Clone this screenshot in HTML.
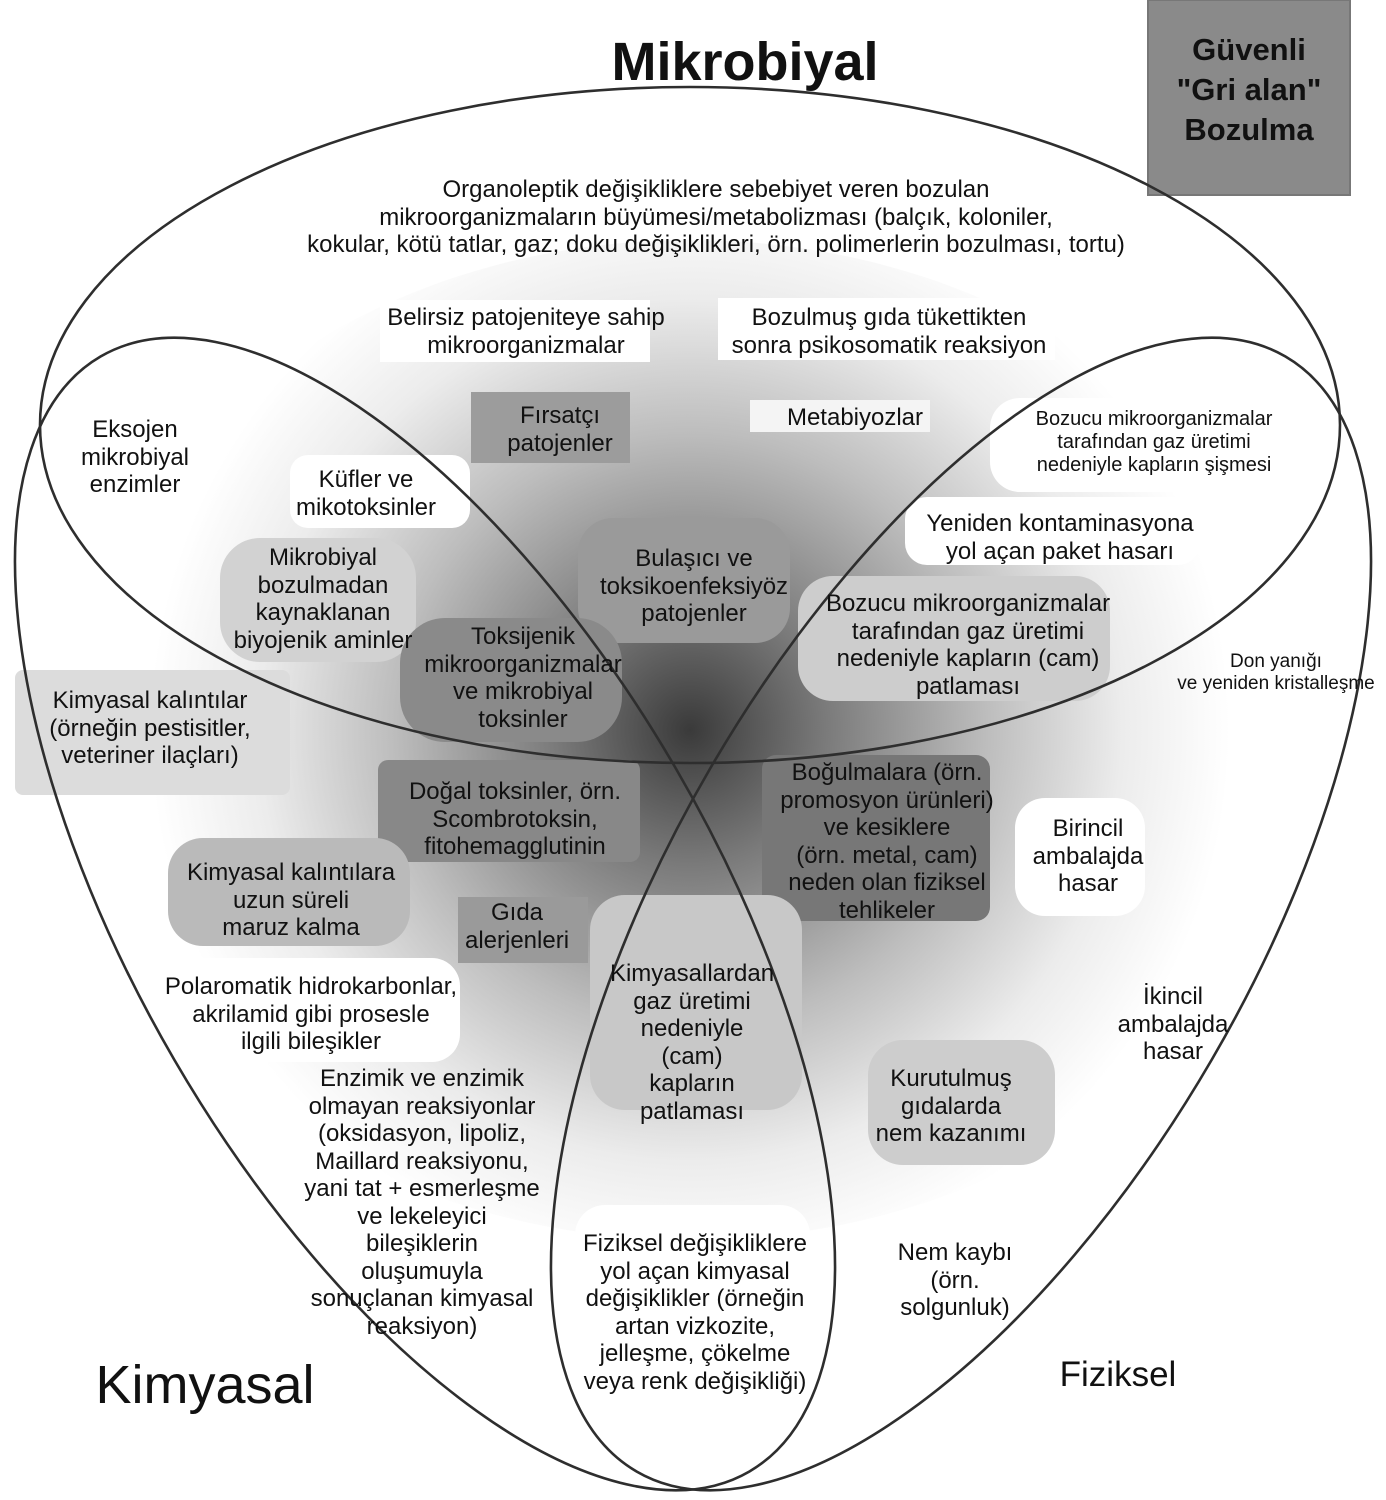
<!DOCTYPE html>
<html><head><meta charset="utf-8"><style>
body{margin:0;background:#fff;}
#c{position:relative;width:1386px;height:1500px;overflow:hidden;font-family:"Liberation Sans",Arial,sans-serif;color:#111;}
.t{position:absolute;text-align:center;font-size:24px;line-height:27.5px;white-space:nowrap;transform:translateX(-50%);}
svg{position:absolute;left:0;top:0;}
</style></head><body><div id="c">
<svg width="1386" height="1500">
<defs>
<radialGradient id="g" cx="690" cy="730" r="540" gradientUnits="userSpaceOnUse">
<stop offset="0" stop-color="#3a3a3a"/>
<stop offset="0.25" stop-color="#7a7a7a"/>
<stop offset="0.55" stop-color="#bdbdbd"/>
<stop offset="0.8" stop-color="#ececec"/>
<stop offset="1" stop-color="#fff"/>
</radialGradient>
</defs>
<rect x="0" y="0" width="1386" height="1500" fill="#fff"/>
<ellipse cx="690" cy="740" rx="620" ry="500" fill="url(#g)"/>
<rect x="380" y="300" width="270" height="62" fill="#fff"/>
<rect x="718" y="298" width="337" height="62" fill="#fff"/>
<rect x="471" y="392" width="159" height="71" fill="#9c9c9c"/>
<rect x="750" y="400" width="180" height="32" fill="#f4f4f4"/>
<rect x="290" y="455" width="180" height="73" rx="18" fill="#fff"/>
<rect x="990" y="398" width="330" height="94" rx="30" fill="#fff"/>
<rect x="905" y="497" width="295" height="68" rx="22" fill="#fff"/>
<rect x="220" y="538" width="196" height="124" rx="40" fill="#d2d2d2"/>
<rect x="578" y="518" width="212" height="125" rx="35" fill="#9a9a9a"/>
<rect x="400" y="618" width="222" height="124" rx="45" fill="#8a8a8a"/>
<rect x="798" y="576" width="312" height="125" rx="35" fill="#cdcdcd"/>
<rect x="15" y="670" width="275" height="125" rx="8" fill="#dcdcdc"/>
<rect x="378" y="760" width="262" height="102" rx="10" fill="#888"/>
<rect x="762" y="755" width="228" height="166" rx="14" fill="#777"/>
<rect x="1015" y="798" width="130" height="118" rx="30" fill="#fff"/>
<rect x="168" y="838" width="242" height="108" rx="35" fill="#bababa"/>
<rect x="458" y="897" width="130" height="66" fill="#9a9a9a"/>
<rect x="140" y="958" width="320" height="104" rx="28" fill="#fff"/>
<rect x="590" y="895" width="212" height="215" rx="35" fill="#c8c8c8"/>
<rect x="868" y="1040" width="187" height="125" rx="35" fill="#cdcdcd"/>
<rect x="575" y="1205" width="235" height="190" rx="30" fill="#fff"/>
<rect x="1148" y="0" width="202" height="195" fill="#8a8a8a" stroke="#777" stroke-width="2"/>
<g fill="none" stroke="#2e2e2e" stroke-width="2.6">
<ellipse cx="690" cy="425" rx="650" ry="338"/>
<ellipse cx="425" cy="914" rx="645" ry="290" transform="rotate(59.8 425 914)"/>
<ellipse cx="961" cy="914" rx="645" ry="290" transform="rotate(-59.8 961 914)"/>
</g>
</svg>
<div class="t" style="left:745px;top:32px;font-size:54px;line-height:60px;font-weight:bold;">Mikrobiyal</div>
<div class="t" style="left:1249px;top:30px;font-size:31px;line-height:40px;font-weight:bold;">Güvenli<br>"Gri alan"<br>Bozulma</div>
<div class="t" style="left:716px;top:176px;">Organoleptik değişikliklere sebebiyet veren bozulan<br>mikroorganizmaların büyümesi/metabolizması (balçık, koloniler,<br>kokular, kötü tatlar, gaz; doku değişiklikleri, örn. polimerlerin bozulması, tortu)</div>
<div class="t" style="left:526px;top:304px;">Belirsiz patojeniteye sahip<br>mikroorganizmalar</div>
<div class="t" style="left:889px;top:304px;">Bozulmuş gıda tükettikten<br>sonra psikosomatik reaksiyon</div>
<div class="t" style="left:560px;top:402px;">Fırsatçı<br>patojenler</div>
<div class="t" style="left:855px;top:404px;">Metabiyozlar</div>
<div class="t" style="left:135px;top:416px;">Eksojen<br>mikrobiyal<br>enzimler</div>
<div class="t" style="left:366px;top:466px;">Küfler ve<br>mikotoksinler</div>
<div class="t" style="left:1154px;top:408px;font-size:20px;line-height:23px;">Bozucu mikroorganizmalar<br>tarafından gaz üretimi<br>nedeniyle kapların şişmesi</div>
<div class="t" style="left:1060px;top:510px;">Yeniden kontaminasyona<br>yol açan paket hasarı</div>
<div class="t" style="left:323px;top:544px;">Mikrobiyal<br>bozulmadan<br>kaynaklanan<br>biyojenik aminler</div>
<div class="t" style="left:694px;top:545px;">Bulaşıcı ve<br>toksikoenfeksiyöz<br>patojenler</div>
<div class="t" style="left:523px;top:623px;">Toksijenik<br>mikroorganizmalar<br>ve mikrobiyal<br>toksinler</div>
<div class="t" style="left:968px;top:590px;">Bozucu mikroorganizmalar<br>tarafından gaz üretimi<br>nedeniyle kapların (cam)<br>patlaması</div>
<div class="t" style="left:1276px;top:651px;font-size:19px;line-height:22px;">Don yanığı<br>ve yeniden kristalleşme</div>
<div class="t" style="left:150px;top:687px;">Kimyasal kalıntılar<br>(örneğin pestisitler,<br>veteriner ilaçları)</div>
<div class="t" style="left:515px;top:778px;">Doğal toksinler, örn.<br>Scombrotoksin,<br>fitohemagglutinin</div>
<div class="t" style="left:887px;top:759px;">Boğulmalara (örn.<br>promosyon ürünleri)<br>ve kesiklere<br>(örn. metal, cam)<br>neden olan fiziksel<br>tehlikeler</div>
<div class="t" style="left:1088px;top:815px;">Birincil<br>ambalajda<br>hasar</div>
<div class="t" style="left:291px;top:859px;">Kimyasal kalıntılara<br>uzun süreli<br>maruz kalma</div>
<div class="t" style="left:517px;top:899px;">Gıda<br>alerjenleri</div>
<div class="t" style="left:311px;top:973px;">Polaromatik hidrokarbonlar,<br>akrilamid gibi prosesle<br>ilgili bileşikler</div>
<div class="t" style="left:692px;top:960px;">Kimyasallardan<br>gaz üretimi<br>nedeniyle<br>(cam)<br>kapların<br>patlaması</div>
<div class="t" style="left:1173px;top:983px;">İkincil<br>ambalajda<br>hasar</div>
<div class="t" style="left:422px;top:1065px;">Enzimik ve enzimik<br>olmayan reaksiyonlar<br>(oksidasyon, lipoliz,<br>Maillard reaksiyonu,<br>yani tat + esmerleşme<br>ve lekeleyici<br>bileşiklerin<br>oluşumuyla<br>sonuçlanan kimyasal<br>reaksiyon)</div>
<div class="t" style="left:951px;top:1065px;">Kurutulmuş<br>gıdalarda<br>nem kazanımı</div>
<div class="t" style="left:695px;top:1230px;">Fiziksel değişikliklere<br>yol açan kimyasal<br>değişiklikler (örneğin<br>artan vizkozite,<br>jelleşme, çökelme<br>veya renk değişikliği)</div>
<div class="t" style="left:955px;top:1239px;">Nem kaybı<br>(örn.<br>solgunluk)</div>
<div class="t" style="left:205px;top:1355px;font-size:54px;line-height:60px;">Kimyasal</div>
<div class="t" style="left:1118px;top:1355px;font-size:35px;line-height:40px;">Fiziksel</div>
</div></body></html>
